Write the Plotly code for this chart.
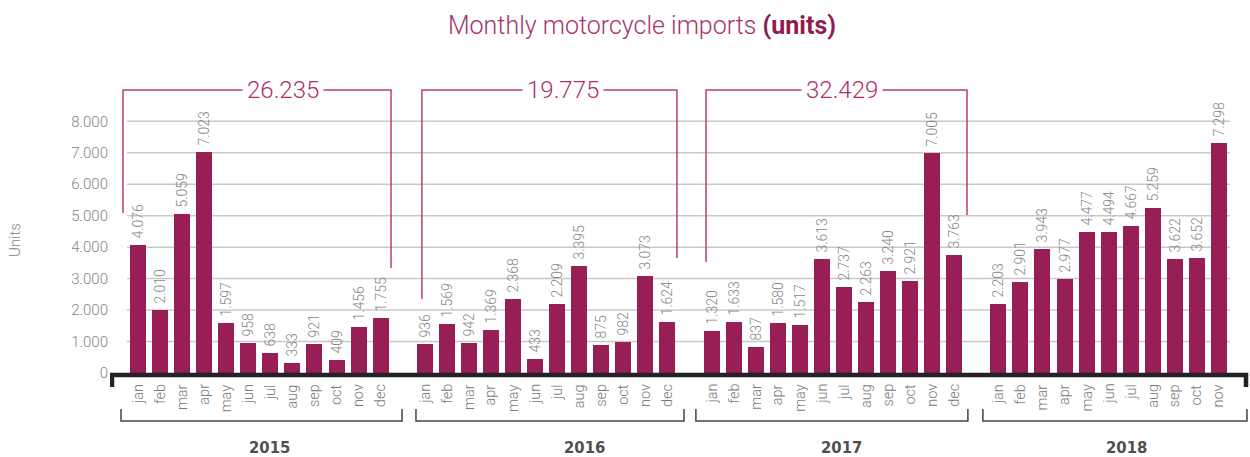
import plotly.graph_objects as go

# ---------------- data ----------------
months = ["jan", "feb", "mar", "apr", "may", "jun", "jul", "aug", "sep", "oct", "nov", "dec"]
years = ["2015", "2016", "2017", "2018"]
units_2015 = [4076, 2010, 5059, 7023, 1597, 958, 638, 333, 921, 409, 1456, 1755]
units_2016 = [936, 1569, 942, 1369, 2368, 433, 2209, 3395, 875, 982, 3073, 1624]
units_2017 = [1320, 1633, 837, 1580, 1517, 3613, 2737, 2263, 3240, 2921, 7005, 3763]
units_2018 = [2203, 2901, 3943, 2977, 4477, 4494, 4667, 5259, 3622, 3652, 7298]
y_ticks = [0, 1000, 2000, 3000, 4000, 5000, 6000, 7000, 8000]

series = [units_2015, units_2016, units_2017, units_2018]

# ---------------- styling ----------------
W, H = 1250, 457
BAR = "#981e56"
PINK = "#ad2f69"
GREY = "#858585"
DARK = "#222222"
FONT = "Roboto"

# pixel geometry helpers (layout only)
L_MARGIN = 110
X0_PX, PITCH = 138.0, 22.06
ZERO_PX, PPU = 373.0, (373.0 - 121.3) / 8000.0
x_lo = (L_MARGIN - X0_PX) / PITCH
x_hi = (W - X0_PX) / PITCH
y_hi = ZERO_PX / PPU
y_lo = -(H - ZERO_PX) / PPU


def px_to_v(py):
    return (ZERO_PX - py) / PPU


def px_to_x(px):
    return (px - X0_PX) / PITCH


# slot positions: 12 months per year + one empty slot between years
xs, ys, labels = [], [], []
for yi, vals in enumerate(series):
    for mi, v in enumerate(vals):
        xs.append(yi * 13 + mi)
        ys.append(v)
        labels.append(months[mi])

fig = go.Figure()
fig.add_trace(go.Bar(
    x=xs, y=ys, width=0.725, marker=dict(color=BAR, line=dict(width=0)),
    text=ys, texttemplate="\u00a0%{y:,}", textposition="outside", textangle=-90,
    textfont=dict(family=FONT, size=14, color=GREY, weight=300),
    constraintext="none", cliponaxis=False, hoverinfo="skip",
))

shapes = []
annotations = []

# gridlines
for t in y_ticks[1:]:
    shapes.append(dict(type="line", xref="x", yref="y", x0=-0.5, x1=49.5, y0=t, y1=t,
                       line=dict(color="#c8c8c8", width=1.5), layer="below"))

# black baseline with end ticks
shapes.append(dict(type="path", xref="x", yref="y",
                   path=f"M {px_to_x(112)},{px_to_v(387)} L {px_to_x(112)},{px_to_v(375)} "
                        f"L {px_to_x(1246)},{px_to_v(375)} L {px_to_x(1246)},{px_to_v(387)}",
                   line=dict(color=DARK, width=4.5)))

# month labels
for x, lab in zip(xs, labels):
    annotations.append(dict(x=x, y=0, xref="x", yref="y", text=lab, showarrow=False,
                            textangle=-90, xanchor="center", yanchor="top", yshift=-9,
                            font=dict(family=FONT, size=14.5, color="#7a7a7a", weight=300)))

# year brackets (bottom)
year_brackets = [(-0.77, 11.97, 5.98), (12.6, 24.75, 20.26), (25.29, 37.62, 31.91), (38.30, 50.27, 44.79)]
for (xl, xr, xt), yr in zip(year_brackets, years):
    yt, yb = px_to_v(409), px_to_v(421)
    shapes.append(dict(type="path", xref="x", yref="y",
                       path=f"M {xl},{yt} L {xl},{yb} L {xr},{yb} L {xr},{yt}",
                       line=dict(color="#444444", width=1.5)))
    annotations.append(dict(x=xt, y=px_to_v(447), xref="x", yref="y", text=f"<b>{yr}</b>",
                            showarrow=False, xanchor="center", yanchor="middle",
                            font=dict(family="DejaVu Sans Condensed", size=16.5, color="#505050")))

# yearly total brackets (top)
top_brackets = [(-0.68, 11.47, 213, 268, 6.57), (12.87, 24.43, 299, 258, 19.27), (25.75, 37.58, 262, 215, 31.91)]
top_v = px_to_v(90)
for (xl, xr, lb, rb, xt), vals in zip(top_brackets, series[:3]):
    shapes.append(dict(type="path", xref="x", yref="y",
                       path=f"M {xl},{px_to_v(lb)} L {xl},{top_v} L {xr},{top_v} L {xr},{px_to_v(rb)}",
                       line=dict(color="#b5407a", width=1.5)))
    total = f"{sum(vals):,}".replace(",", ".")
    annotations.append(dict(x=xt, y=top_v, xref="x", yref="y", text=total, showarrow=False,
                            xanchor="center", yanchor="middle", bgcolor="white", borderpad=4,
                            font=dict(family=FONT, size=24, color=PINK, weight=300)))

# Units label
annotations.append(dict(x=(15 - L_MARGIN) / (W - L_MARGIN), y=px_to_v(240), xref="paper", yref="y",
                        text="Units", showarrow=False, textangle=-90, xanchor="center", yanchor="middle",
                        font=dict(family=FONT, size=15, color=GREY, weight=300)))

fig.update_layout(
    width=W, height=H,
    margin=dict(l=L_MARGIN, r=0, t=0, b=0),
    paper_bgcolor="white", plot_bgcolor="white",
    separators=",.",
    showlegend=False,
    title=dict(text="Monthly motorcycle imports <span style='color:#8f1b52'><b>(units)</b></span>",
               x=642 / W, xref="container", xanchor="center",
               y=1 - 25 / H, yref="container", yanchor="middle",
               font=dict(family=FONT, size=25, color="#a8336c", weight=300)),
    xaxis=dict(range=[x_lo, x_hi], showgrid=False, zeroline=False, showticklabels=False,
               showline=False, ticks="", fixedrange=True),
    yaxis=dict(range=[y_lo, y_hi], showgrid=False, zeroline=False, tickvals=y_ticks,
               tickformat=",", ticks="", showline=False, ticklabelstandoff=1,
               tickfont=dict(family=FONT, size=15, color=GREY, weight=300)),
    shapes=shapes,
    annotations=annotations,
    bargap=0,
)

fig.write_html("out.html", config={"displayModeBar": False},
               post_script="document.body.style.margin='0px';document.body.style.overflow='hidden';")
